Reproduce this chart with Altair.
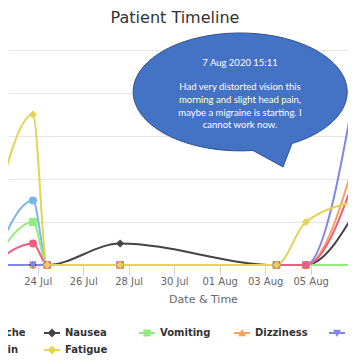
import altair as alt
import pandas as pd

# ---------------- data ----------------
series = ["Headache", "Nausea", "Vomiting", "Dizziness", "Vision disturbance", "Eye pain", "Fatigue"]
colors = ["#7cb5ec", "#434348", "#90ed7d", "#f7a35c", "#8085e9", "#f15c80", "#e4d354"]
marker_shapes = ["circle", "diamond", "square", "triangle-up", "triangle-down", "circle", "diamond"]

times = ["2020-07-22T00:00", "2020-07-23T19:00", "2020-07-24T10:00", "2020-07-27T15:00",
         "2020-08-03T12:00", "2020-08-04T19:00", "2020-08-07T06:00"]
headache = [0, 3, 0, 0, 0, 0, 0]
nausea = [0, 0, 0, 1, 0, 0, 3]
vomiting = [0, 2, 0, 0, 0, 0, 0]
dizziness = [0, 0, 0, 0, 0, 0, 6]
vision = [0, 0, 0, 0, 0, 0, 10]
eye_pain = [0, 1, 0, 0, 0, 0, 5]
fatigue = [2, 7, 0, 0, 0, 2, 3]

tick_dates = [(2020, 7, 24), (2020, 7, 26), (2020, 7, 28), (2020, 7, 30),
              (2020, 8, 1), (2020, 8, 3), (2020, 8, 5), (2020, 8, 7)]
y_ticks = [0, 2, 4, 6, 8, 10]

note_time = ["2020-08-01T21:30"]
note_value = [8.05]
note_header_value = [9.40]
note_body_value = [8.28]
note_header = "7 Aug 2020 15:11"
note_body = ["Had very distorted vision this", "morning and slight head pain,",
             "maybe a migraine is starting. I", "cannot work now."]

# ---------------- tables ----------------
values_by_series = [headache, nausea, vomiting, dizziness, vision, eye_pain, fatigue]
rows = []
for name, vals in zip(series, values_by_series):
    for t, v in zip(times, vals):
        rows.append({"date": t, "series": name, "value": v})
df = pd.DataFrame(rows)
note_df = pd.DataFrame({"date": note_time, "value": note_value,
                        "hvalue": note_header_value, "bvalue": note_body_value})

# legend symbols: a short line with the marker drawn on it (filled paths)
bar = "M-1,-0.125H1V0.125H-1Z"
marker_paths = {
    "circle": "M0.5,0A0.5,0.5,0,1,1,-0.5,0A0.5,0.5,0,1,1,0.5,0Z",
    "diamond": "M0,-0.55L0.55,0L0,0.55L-0.55,0Z",
    "square": "M-0.45,-0.45H0.45V0.45H-0.45Z",
    "triangle-up": "M0,-0.5L0.5,0.4L-0.5,0.4Z",
    "triangle-down": "M0,0.5L-0.5,-0.4L0.5,-0.4Z",
}
legend_paths = [bar + marker_paths[s] for s in marker_shapes]

callout_path = "M0.121,0.547A1,0.551,0,1,1,0.486,0.482L0.402,0.701Z"

FONT = "DejaVu Sans"
NOTE_FONT = "Liberation Sans Narrow, Arial Narrow, Lato, sans-serif"

x_domain = [alt.DateTime(year=2020, month=7, date=22, hours=16, minutes=40),
            alt.DateTime(year=2020, month=8, date=6, hours=15, minutes=28)]
x_ticks = [alt.DateTime(year=y, month=m, date=d) for (y, m, d) in tick_dates]

x_enc = alt.X(
    "date:T",
    scale=alt.Scale(domain=x_domain),
    axis=alt.Axis(
        values=x_ticks, format="%d %b", labelFlush=False, labelOverlap=False,
        grid=False, domainColor="#ccd6eb", tickColor="#ccd6eb", tickSize=10,
        labelPadding=1, labelColor="#666666", labelFont=FONT, labelFontSize=10,
        title="Date & Time", titleColor="#666666", titleFont=FONT, titleFontSize=11,
        titleFontWeight="normal", titleX=195, titleY=37, titleBaseline="alphabetic",
    ),
)
y_enc = alt.Y(
    "value:Q",
    scale=alt.Scale(domain=[0, 10], nice=False),
    axis=alt.Axis(values=y_ticks, grid=True, gridColor="#e6e6e6", domain=False,
                  ticks=False, labels=False, title=None),
)

color_scale = alt.Scale(domain=series, range=colors)

lines = alt.Chart(df).mark_line(interpolate="monotone", strokeWidth=2).encode(
    x=x_enc, y=y_enc,
    color=alt.Color("series:N", scale=color_scale, legend=None),
)

points = alt.Chart(df).mark_point(filled=True, size=64, opacity=1).encode(
    x="date:T", y="value:Q",
    color=alt.Color("series:N", scale=color_scale, legend=None),
    shape=alt.Shape("series:N", scale=alt.Scale(domain=series, range=marker_shapes), legend=None),
)

callout = alt.Chart(note_df).mark_point(
    shape=callout_path, size=214 * 214, filled=True, fill="#4472c4",
    stroke="#2f528f", strokeWidth=1, opacity=1,
).encode(x="date:T", y="value:Q")

header_text = alt.Chart(note_df).mark_text(
    text=note_header, font=NOTE_FONT, fontSize=9.5, color="#ffffff",
    align="center", baseline="middle",
).encode(x="date:T", y="hvalue:Q")

body_text = alt.Chart(note_df).mark_text(
    text=note_body, font=NOTE_FONT, fontSize=9.5, color="#ffffff",
    lineHeight=12.8, align="center", baseline="middle",
).encode(x="date:T", y="bvalue:Q")

legend_props = dict(
    title=None, orient="none", legendX=-59, legendY=275, direction="horizontal",
    columns=5, gridAlign="all", columnPadding=15, rowPadding=4,
    symbolSize=256, symbolStrokeWidth=0, labelFont=FONT, labelFontSize=10,
    labelFontWeight="bold", labelColor="#333333", labelLimit=60, labelOffset=5,
    padding=0,
)

legend_layer = alt.Chart(df).transform_filter("false").mark_point(
    filled=True, size=256, opacity=1, strokeWidth=0,
).encode(
    color=alt.Color("series:N", scale=color_scale, legend=alt.Legend(**legend_props)),
    shape=alt.Shape("series:N", scale=alt.Scale(domain=series, range=legend_paths),
                    legend=alt.Legend(**legend_props)),
)

chart = (
    alt.layer(lines, points, callout, header_text, body_text, legend_layer)
    .resolve_scale(color="independent", shape="independent")
    .properties(
        width=340, height=215,
        autosize=alt.AutoSizeParams(type="none"),
        padding={"left": 0, "top": 42, "right": 0, "bottom": 91},
        title=alt.TitleParams("Patient Timeline", font=FONT, fontSize=16, fontWeight="normal",
                              color="#333333", anchor="middle", frame="group", dx=-3,
                              offset=-8.5, baseline="alphabetic"),
        background="#ffffff",
    )
    .configure_view(stroke=None)
)

chart.save("out.html", embed_options={"renderer": "svg", "actions": False})
